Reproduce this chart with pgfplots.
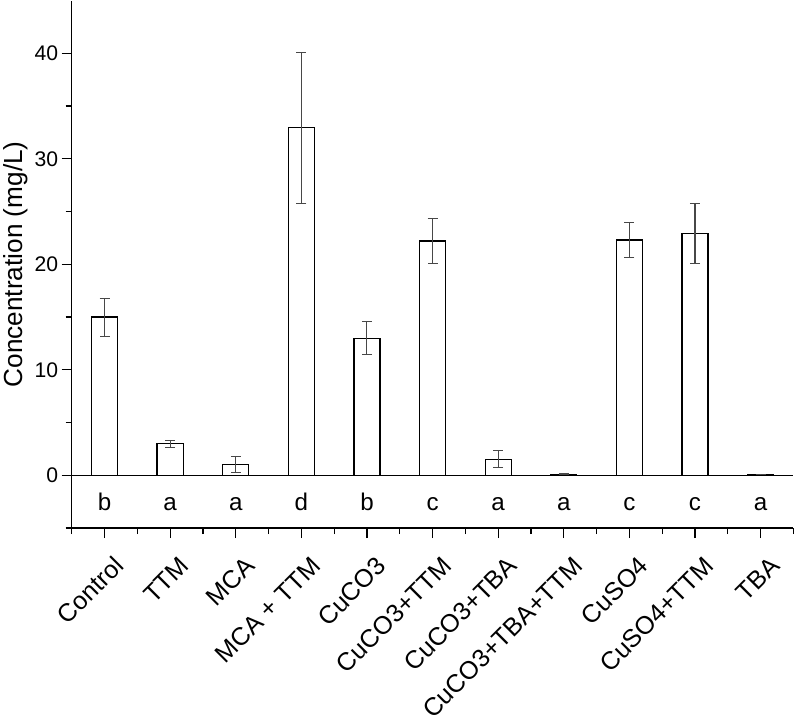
\documentclass[border=0pt]{standalone}
\usepackage{fontspec}
\setmainfont{Liberation Sans}
\usepackage{pgfplots}
\pgfplotsset{compat=1.18}
\usepackage{pgfplotstable}

\pgfplotstableread{
x y err lab ly
0 15.0 1.8 b -3.35
1 3.0 0.33 a -3.35
2 1.05 0.75 a -3.35
3 32.95 7.15 d -3.35
4 13.0 1.55 b -3.35
5 22.2 2.15 c -3.35
6 1.5 0.8 a -3.35
7 0.1 0.05 a -3.35
8 22.3 1.7 c -3.35
9 22.9 2.85 c -3.35
10 0.05 0.03 a -3.35
}\datatable

\begin{document}
\begin{tikzpicture}
\begin{axis}[
  scale only axis, width=717pt, height=524pt,
  xmin=-0.5, xmax=10.5, ymin=-5, ymax=45,
  axis lines*=left,
  axis line style={line width=1.2pt},
  tick align=outside,
  xtick={0,...,10},
  xticklabels={Control, TTM, MCA, MCA + TTM, CuCO3, CuCO3+TTM, CuCO3+TBA, CuCO3+TBA+TTM, CuSO4, CuSO4+TTM, TBA},
  minor xtick={-0.5,0.5,...,10.5},
  ytick={0,10,20,30,40},
  minor ytick={-5,5,15,25,35},
  major tick length=10pt, minor tick length=6pt,
  tick style={line width=1.2pt, black},
  /pgf/number format/assume math mode=true,
  yticklabel style={font=\fontsize{21}{25}\selectfont},
  xticklabel style={font=\fontsize{25}{30}\selectfont, inner sep=0pt, xshift=20.5pt, yshift=-29.5pt, rotate=45, anchor=base east},
  ylabel={Concentration (mg/L)},
  ylabel style={font=\fontsize{26}{30}\selectfont},
  clip=false,
]
\addplot[ybar, bar width=26pt, draw=black, fill=white, line width=1.2pt,
  error bars/.cd, y dir=both, y explicit,
  error bar style={draw=black!72, line width=1pt},
  error mark options={black!72, line width=1pt, mark size=5pt, rotate=90}]
  table[x=x, y=y, y error=err]{\datatable};
\addplot[black, line width=1.2pt] coordinates {(-0.5,0) (10.5,0)};
\addplot[draw=none, mark=none, nodes near coords, point meta=explicit symbolic,
  nodes near coords style={anchor=base, inner sep=0pt, font=\fontsize{24}{28}\selectfont, black}]
  table[x=x, y=ly, meta=lab]{\datatable};
\end{axis}
\end{tikzpicture}
\end{document}
